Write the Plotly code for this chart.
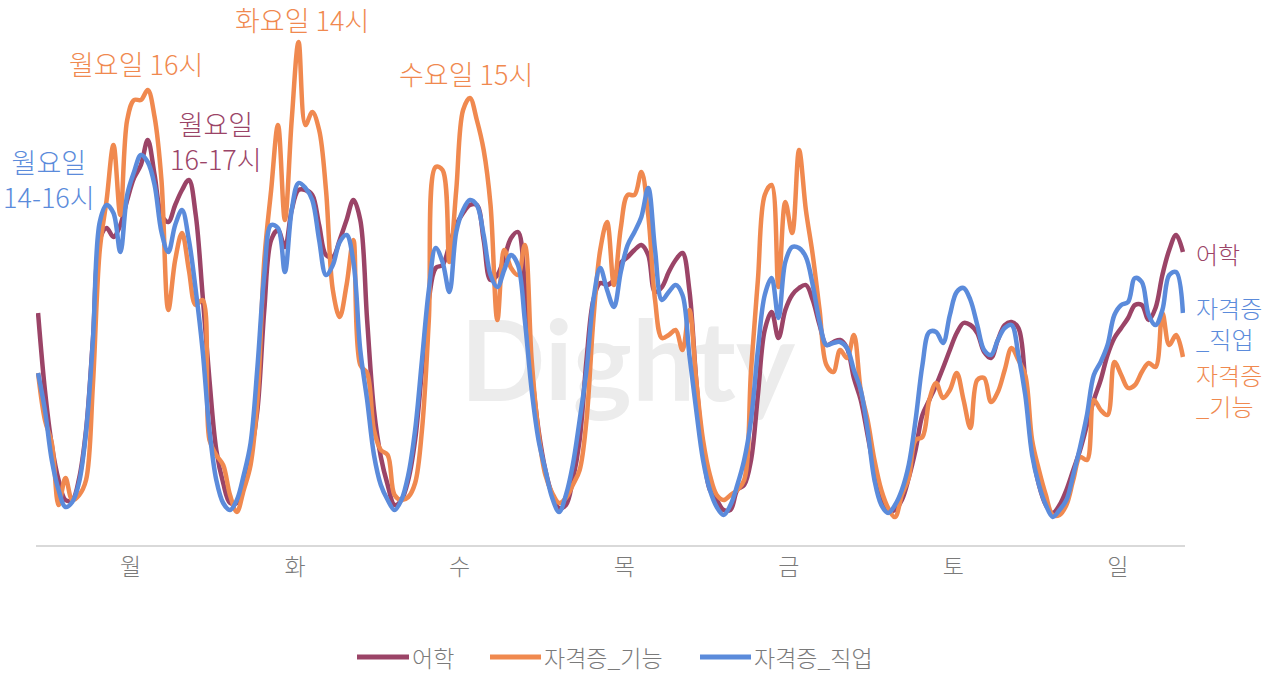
import plotly.graph_objects as go

days = ["월", "화", "수", "목", "금", "토", "일"]
hours = list(range(24))
series_names = ["어학", "자격증_기능", "자격증_직업"]

# 어학
eohak = [
    232,155,100,65,45,45,67,115,205,305,317,308,320,345,367,380,405,370,330,323,340,355,365,330,
    250,165,95,62,42,42,60,90,135,235,305,315,298,335,355,355,350,320,290,288,305,325,345,325,
    225,135,88,60,40,45,65,105,175,245,277,280,300,320,332,340,340,305,265,270,287,307,313,260,
    175,115,75,50,37,40,65,105,185,245,262,260,265,282,288,295,300,290,253,258,273,285,292,255,
    165,95,55,45,35,35,55,60,85,150,215,233,207,235,250,257,260,245,220,200,203,205,197,167,
    145,110,75,50,35,35,45,67,95,130,145,160,177,195,212,222,220,212,193,187,205,220,223,217,
    165,95,60,40,32,40,55,75,95,120,145,165,190,207,217,227,240,240,225,237,270,295,310,293,
]
# 자격증_기능
gineung = [
    172,125,102,40,67,45,50,65,160,295,345,400,330,425,445,445,455,428,365,235,285,312,275,240,
    245,105,90,80,50,33,55,80,145,285,355,420,325,425,503,420,433,415,355,255,228,260,305,180,
    172,115,95,90,50,45,48,62,115,225,378,375,283,355,435,447,425,395,340,225,295,277,270,300,
    185,112,70,52,42,47,60,75,125,225,295,323,260,317,350,350,373,330,245,207,210,215,195,235,
    165,105,70,50,45,50,55,65,175,265,350,360,258,343,312,395,335,290,235,180,173,195,187,210,
    155,125,85,55,37,28,50,67,105,108,145,162,147,155,172,145,117,165,167,143,153,175,197,185,
    170,105,75,50,30,30,40,65,88,85,145,135,130,183,170,157,160,173,182,178,232,200,210,188,
]
# 자격증_직업
jikeop = [
    172,135,85,55,38,43,63,113,205,323,340,332,293,350,373,390,383,360,313,293,320,335,305,255,
    195,115,65,42,35,45,70,102,178,270,320,317,273,335,362,357,345,305,270,280,303,310,283,195,
    145,90,60,45,35,45,70,115,185,255,297,283,253,313,335,345,340,310,270,258,275,290,280,225,
    155,105,75,47,33,50,80,125,175,245,277,255,238,273,300,313,328,357,295,245,253,260,250,190,
    135,85,55,38,30,40,60,85,125,195,250,267,227,283,298,297,288,260,223,200,202,203,197,175,
    155,115,65,40,32,40,55,80,125,180,213,213,202,230,253,257,245,220,195,190,205,217,220,190,
    150,90,60,40,28,35,45,70,98,130,170,183,200,230,240,243,267,263,230,220,235,270,273,232,
]

x = list(range(len(days) * len(hours)))

C_EO = "#9B4467"
C_GI = "#F0894F"
C_JI = "#5B8BDB"
FONT = "Noto Sans CJK KR"
GRAY = "#7a7a7a"
WT = 300

W, H = 1275, 673
ML, MR, MT, MB = 36, 90, 0, 128
PW, PH = W - ML - MR, H - MT - MB


def px2paper_x(px):
    return (px - ML) / PW


def px2paper_y(py):
    return (H - MB - py) / PH


fig = go.Figure()

# watermark (drawn first so lines sit on top)
fig.add_trace(go.Scatter(
    x=[86], y=[172], mode="text", text=["Dighty"], showlegend=False, hoverinfo="skip",
    textfont=dict(family="Lato", size=112, color="#ececec", weight="bold"),
))

for name, ys, col in zip(series_names, [eohak, gineung, jikeop], [C_EO, C_GI, C_JI]):
    fig.add_trace(go.Scatter(
        x=x, y=ys, name=name, mode="lines", showlegend=False,
        line=dict(color=col, width=4.5, shape="spline", smoothing=1.0),
    ))

ann = [
    (1.6, 366, "월요일<br>14-16시", C_JI),
    (14.3, 482, "월요일 16시", C_GI),
    (26.0, 404, "월요일<br>16-17시", C_EO),
    (38.5, 526, "화요일 14시", C_GI),
    (62.4, 472, "수요일 15시", C_GI),
]
for ax_, ay_, t, c in ann:
    fig.add_annotation(x=ax_, y=ay_, xref="x", yref="y", text=t, showarrow=False,
                       xanchor="center", yanchor="middle", align="center", borderpad=0,
                       font=dict(family=FONT, size=27, color=c, weight=WT))

# end-of-line labels
for t, ay_, c in [("어학", 292, C_EO), ("자격증<br>_직업", 222, C_JI), ("자격증<br>_기능", 155, C_GI)]:
    fig.add_annotation(x=px2paper_x(1195), y=ay_, xref="paper", yref="y", text=t, showarrow=False,
                       xanchor="left", yanchor="middle", align="left", borderpad=0,
                       font=dict(family=FONT, size=24, color=c, weight=WT))

# custom legend (bottom)
leg_y = px2paper_y(657)
for name, col, x0, x1 in zip(series_names, [C_EO, C_GI, C_JI], [357, 490, 700], [409, 541, 751]):
    fig.add_shape(type="line", xref="paper", yref="paper",
                  x0=px2paper_x(x0), x1=px2paper_x(x1), y0=leg_y, y1=leg_y,
                  line=dict(color=col, width=5))
    fig.add_annotation(x=px2paper_x(x1 + 2), y=leg_y, xref="paper", yref="paper", text=name,
                       showarrow=False, xanchor="left", yanchor="middle", borderpad=0,
                       font=dict(family=FONT, size=23, color=GRAY, weight=WT))

fig.update_layout(
    width=W, height=H,
    margin=dict(l=ML, r=MR, t=MT, b=MB),
    paper_bgcolor="white", plot_bgcolor="white",
    font=dict(family=FONT, color=GRAY),
    showlegend=False,
    xaxis=dict(range=[-0.3, 167.3], showgrid=False, zeroline=False,
               showline=True, linecolor="#d9d9d9", linewidth=2,
               tickmode="array", tickvals=[13.5 + 24 * i for i in range(7)], ticktext=days,
               ticks="", tickfont=dict(family=FONT, size=23, color=GRAY, weight=WT)),
    yaxis=dict(range=[0, 545], visible=False, showgrid=False, zeroline=False),
    hovermode=False,
)

fig.write_html("out.html", config={"displayModeBar": False},
               post_script="document.body.style.margin='0';document.body.style.overflow='hidden';")
